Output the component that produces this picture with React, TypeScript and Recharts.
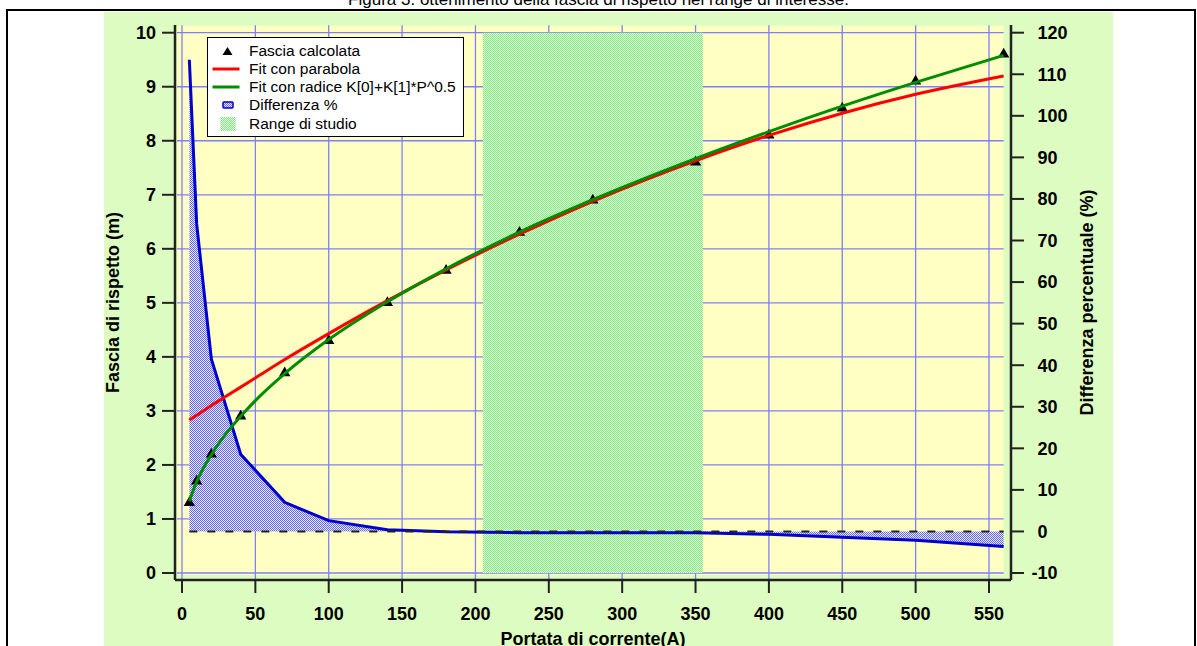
import React from "react";
import {
  Area,
  ComposedChart,
  Legend,
  Line,
  ReferenceArea,
  ReferenceLine,
  Scatter,
  XAxis,
  YAxis,
  ZAxis,
} from "recharts";

// punti calcolati (triangoli) e differenza % tra i due fit
const portata = [5, 10, 20, 40, 70, 100, 140, 180, 230, 280, 350, 400, 450, 500, 560];
const fasciaCalcolata = [1.3, 1.7, 2.2, 2.9, 3.7, 4.3, 5.0, 5.6, 6.3, 6.9, 7.6, 8.1, 8.6, 9.1, 9.6];
const differenzaPercentuale = [113.5, 74, 41.5, 18.6, 7, 2.6, 0.4, -0.1, -0.3, -0.3, -0.3, -0.7, -1.4, -2.1, -3.6];

// curve di fit
const portataFit = [5, 10, 20, 30, 40, 50, 70, 100, 140, 180, 230, 280, 350, 400, 450, 500, 560];
const fitParabola = [2.83, 2.92, 3.1, 3.27, 3.44, 3.61, 3.95, 4.43, 5.04, 5.61, 6.27, 6.88, 7.63, 8.1, 8.51, 8.86, 9.2];
const fitRadice = [1.33, 1.69, 2.19, 2.58, 2.9, 3.19, 3.69, 4.32, 5.02, 5.63, 6.31, 6.91, 7.67, 8.17, 8.64, 9.08, 9.58];

const rangeStudio = [205, 355];

const xTicks = [0, 50, 100, 150, 200, 250, 300, 350, 400, 450, 500, 550];
const leftTicks = [0, 1, 2, 3, 4, 5, 6, 7, 8, 9, 10];
const rightTicks = [-10, 0, 10, 20, 30, 40, 50, 60, 70, 80, 90, 100, 110, 120];

const puntiCalcolati = portata.map((x, i) => ({ x, y: fasciaCalcolata[i] }));
const puntiDifferenza = portata.map((x, i) => ({ x, y: differenzaPercentuale[i] }));
const curvaParabola = portataFit.map((x, i) => ({ x, y: fitParabola[i] }));
const curvaRadice = portataFit.map((x, i) => ({ x, y: fitRadice[i] }));
const lineaZero = [
  { x: portata[0], y: 0 },
  { x: portata[portata.length - 1], y: 0 },
];

const FONT = '"Liberation Sans", Arial, sans-serif';
const GRID = "#7f7ff8";
const AXIS = "#222";
const X_DOMAIN = [-4.77, 565];
const BG_X = [-3.4, 560];
const BG_Y = [-0.037, 10.13];

const tickStyle = { fontSize: 18, fontWeight: "bold", fill: "#000", fontFamily: FONT };
const titleStyle = { textAnchor: "middle", fontSize: 18, fontWeight: "bold", fill: "#000", fontFamily: FONT };

const RightTick = (props: any) => {
  const { x, y, payload } = props;
  return (
    <text
      x={x + (payload.value < 0 ? -6 : 0)}
      y={y}
      dy="0.355em"
      textAnchor="start"
      {...tickStyle}
    >
      {payload.value}
    </text>
  );
};

const legendItems = [
  { label: "Fascia calcolata", kind: "triangle" },
  { label: "Fit con parabola", kind: "red" },
  { label: "Fit con radice K[0]+K[1]*P^0.5", kind: "green" },
  { label: "Differenza %", kind: "blue" },
  { label: "Range di studio", kind: "range" },
];

function LegendSymbol({ kind }: { kind: string }) {
  return (
    <svg width={41} height={18} style={{ display: "block", flex: "none" }}>
      {kind === "triangle" && <polygon points="14.5,13 24.5,13 19.5,5" fill="#000" />}
      {kind === "red" && <line x1={4.5} x2={31.5} y1={9} y2={9} stroke="#ff0000" strokeWidth={3} />}
      {kind === "green" && <line x1={4.5} x2={31.5} y1={9} y2={9} stroke="#008c00" strokeWidth={3} />}
      {kind === "blue" && (
        <rect x={15} y={6} width={10} height={6} rx={1} fill="url(#hatchBlue)" stroke="#0000cc" strokeWidth={1.5} />
      )}
      {kind === "range" && <rect x={12.5} y={2} width={15} height={14} fill="url(#hatchGreen)" />}
    </svg>
  );
}

function LegendBox() {
  return (
    <div
      style={{
        width: 257,
        height: 100,
        boxSizing: "border-box",
        border: "1.5px solid #000",
        background: "#fff",
        paddingTop: 3.4,
        fontFamily: FONT,
        fontSize: 15.5,
        color: "#000",
      }}
    >
      {legendItems.map((item) => (
        <div key={item.label} style={{ display: "flex", alignItems: "center", height: 18.25, whiteSpace: "nowrap" }}>
          <LegendSymbol kind={item.kind} />
          <span>{item.label}</span>
        </div>
      ))}
    </div>
  );
}

export default function App() {
  return (
    <div
      style={{
        position: "fixed",
        left: 0,
        top: 0,
        width: 1197,
        height: 646,
        overflow: "hidden",
        background: "#fff",
        fontFamily: FONT,
      }}
    >
      <svg width={0} height={0} style={{ position: "absolute" }}>
        <defs>
          <pattern id="hatchBlue" width={2} height={2} patternUnits="userSpaceOnUse">
            <rect width={2} height={2} fill="#e8e8ff" />
            <rect x={0} y={0} width={1} height={1} fill="#6868ee" />
            <rect x={1} y={1} width={1} height={1} fill="#6868ee" />
          </pattern>
          <pattern id="hatchGreen" width={2} height={2} patternUnits="userSpaceOnUse">
            <rect width={2} height={2} fill="#e0ffd8" />
            <rect x={0} y={0} width={1} height={1} fill="#84e884" />
            <rect x={1} y={1} width={1} height={1} fill="#84e884" />
          </pattern>
        </defs>
      </svg>

      <div
        style={{
          position: "absolute",
          left: 6,
          top: 9,
          width: 1190,
          height: 700,
          boxSizing: "border-box",
          border: "2.5px solid #000",
        }}
      />
      <div
        style={{
          position: "absolute",
          left: 104,
          top: 12,
          width: 1009,
          height: 640,
          background: "#ddfcc1",
        }}
      />
      <div
        style={{
          position: "absolute",
          left: 0,
          top: -10,
          width: 1197,
          height: 20,
          lineHeight: "20px",
          textAlign: "center",
          fontSize: 17,
          color: "#000",
        }}
      >
        Figura 3: ottenimento della fascia di rispetto nel range di interesse.
      </div>

      <div style={{ position: "absolute", left: 0, top: 0 }}>
        <ComposedChart width={1197} height={646} margin={{ top: 25, right: 106, bottom: 26, left: 115 }}>
          <XAxis
            dataKey="x"
            type="number"
            domain={X_DOMAIN}
            ticks={xTicks}
            interval={0}
            height={40}
            tickSize={13}
            tickMargin={14}
            tick={tickStyle}
            axisLine={{ stroke: AXIS, strokeWidth: 2.5 }}
            tickLine={{ stroke: AXIS, strokeWidth: 2 }}
            allowDataOverflow
            label={{ value: "Portata di corrente(A)", position: "insideBottom", offset: -25, style: titleStyle }}
          />
          <XAxis
            xAxisId="top"
            orientation="top"
            type="number"
            domain={X_DOMAIN}
            height={0}
            tick={false}
            tickLine={false}
            axisLine={{ stroke: AXIS, strokeWidth: 2.5 }}
            allowDataOverflow
          />
          <YAxis
            yAxisId="left"
            type="number"
            domain={[-0.1296, 10.1425]}
            ticks={leftTicks}
            interval={0}
            width={60}
            tickSize={13}
            tickMargin={6}
            tick={tickStyle}
            axisLine={{ stroke: AXIS, strokeWidth: 2.5 }}
            tickLine={{ stroke: AXIS, strokeWidth: 2 }}
            allowDataOverflow
            label={{ value: "Fascia di rispetto (m)", angle: -90, position: "insideLeft", offset: -2, style: titleStyle }}
          />
          <YAxis
            yAxisId="right"
            orientation="right"
            type="number"
            domain={[-11.68, 121.85]}
            ticks={rightTicks}
            interval={0}
            width={80}
            tickSize={13}
            tickMargin={13.5}
            tick={<RightTick />}
            axisLine={{ stroke: AXIS, strokeWidth: 2.5 }}
            tickLine={{ stroke: AXIS, strokeWidth: 2 }}
            allowDataOverflow
            label={{ value: "Differenza percentuale (%)", angle: -90, position: "insideRight", offset: 4.5, style: titleStyle }}
          />
          <ZAxis range={[55, 55]} />

          <ReferenceArea
            yAxisId="left"
            x1={BG_X[0]}
            x2={BG_X[1]}
            y1={BG_Y[0]}
            y2={BG_Y[1]}
            fill="#ffffc4"
            fillOpacity={1}
            stroke="none"
            zIndex={-300}
          />
          {leftTicks.map((v) => (
            <ReferenceLine
              key={"h" + v}
              yAxisId="left"
              segment={[
                { x: BG_X[0], y: v },
                { x: BG_X[1], y: v },
              ]}
              stroke={GRID}
              strokeWidth={1.3}
              zIndex={-200}
            />
          ))}
          {xTicks.map((v) => (
            <ReferenceLine
              key={"v" + v}
              yAxisId="left"
              segment={[
                { x: v, y: -0.12 },
                { x: v, y: 10.14 },
              ]}
              stroke={GRID}
              strokeWidth={1.3}
              zIndex={-200}
            />
          ))}
          <ReferenceArea
            yAxisId="left"
            x1={rangeStudio[0]}
            x2={rangeStudio[1]}
            y1={0}
            y2={10}
            fill="url(#hatchGreen)"
            fillOpacity={1}
            stroke="none"
            zIndex={-100}
          />

          <Area
            data={puntiDifferenza}
            dataKey="y"
            yAxisId="right"
            type="linear"
            baseValue={0}
            stroke="#0000cc"
            strokeWidth={3}
            fill="url(#hatchBlue)"
            fillOpacity={1}
            dot={false}
            activeDot={false}
            isAnimationActive={false}
            zIndex={100}
          />
          <Line
            data={lineaZero}
            dataKey="y"
            yAxisId="right"
            type="linear"
            stroke="#222"
            strokeWidth={2}
            strokeDasharray="8 10"
            dot={false}
            activeDot={false}
            isAnimationActive={false}
            zIndex={150}
          />
          <Scatter
            data={puntiCalcolati}
            dataKey="y"
            yAxisId="left"
            shape="triangle"
            fill="#000"
            isAnimationActive={false}
            zIndex={200}
          />
          <Line
            data={curvaParabola}
            dataKey="y"
            yAxisId="left"
            type="monotone"
            stroke="#ff0000"
            strokeWidth={3}
            dot={false}
            activeDot={false}
            isAnimationActive={false}
            zIndex={250}
          />
          <Line
            data={curvaRadice}
            dataKey="y"
            yAxisId="left"
            type="monotone"
            stroke="#008c00"
            strokeWidth={3}
            dot={false}
            activeDot={false}
            isAnimationActive={false}
            zIndex={300}
          />
          <Legend
            layout="vertical"
            align="center"
            verticalAlign="middle"
            content={() => <LegendBox />}
            wrapperStyle={{ left: 207, top: 37, width: 257, height: 100 }}
          />
        </ComposedChart>
      </div>
    </div>
  );
}
